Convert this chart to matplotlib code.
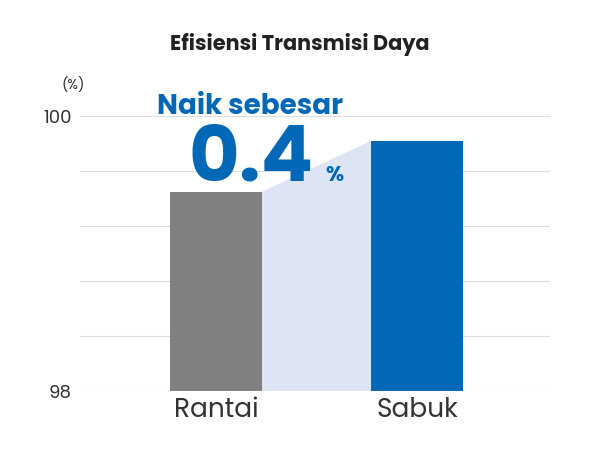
import matplotlib
matplotlib.use("Agg")
import matplotlib.pyplot as plt
from matplotlib.patches import Polygon

categories = ["Rantai", "Sabuk"]
values = [99.45, 99.82]
colors = ["#808080", "#0068b7"]
yticks = [98, 100]

plt.rcParams['font.family'] = ['Poppins', 'Roboto', 'DejaVu Sans']
fig = plt.figure(figsize=(6, 4.5), dpi=100)
ax = fig.add_axes([0.133, 0.131, 0.784, 0.611])
x = [0, 1]
w = 0.458
ax.set_xlim(-0.677, 1.662)
ax.set_ylim(98, 100)
for yy in [98.4, 98.8, 99.2, 99.6, 100]:
    ax.axhline(yy, color="#dddddd", lw=0.8, zorder=0)
ax.add_patch(Polygon([(w/2, values[0]), (1-w/2, values[1]), (1-w/2, 98), (w/2, 98)],
                     closed=True, color="#dde4f3", lw=0, zorder=1))
ax.bar(x, values, width=w, color=colors, bottom=0, zorder=2)
ax.set_ylim(98, 100)
for s in ax.spines.values():
    s.set_visible(False)
ax.axhline(98, color="#cccccc", lw=0.8, zorder=3)
ax.set_yticks(yticks)
ax.set_yticklabels([str(v) for v in yticks], fontsize=13, color="#333333")
ax.set_xticks(x)
ax.set_xticklabels(categories, fontsize=19, color="#333333")
ax.tick_params(length=0, pad=4)
ax.tick_params(axis='y', pad=6)
fig.text(0.5, 0.9, "Efisiensi Transmisi Daya", ha="center", va="center", fontsize=15, fontweight="bold", color="#222222")
fig.text(0.122, 0.81, "(%)", ha="center", va="center", fontsize=10, color="#333333")
fig.text(0.417, 0.762, "Naik sebesar", ha="center", va="center", fontsize=20, fontweight="bold", color="#0068b7")
fig.text(0.418, 0.64, "0.4", ha="center", va="center", fontsize=56, fontweight="bold", color="#0068b7")
fig.text(0.558, 0.608, "%", ha="center", va="center", fontsize=15, fontweight="bold", color="#0068b7")
fig.savefig("out.png")
